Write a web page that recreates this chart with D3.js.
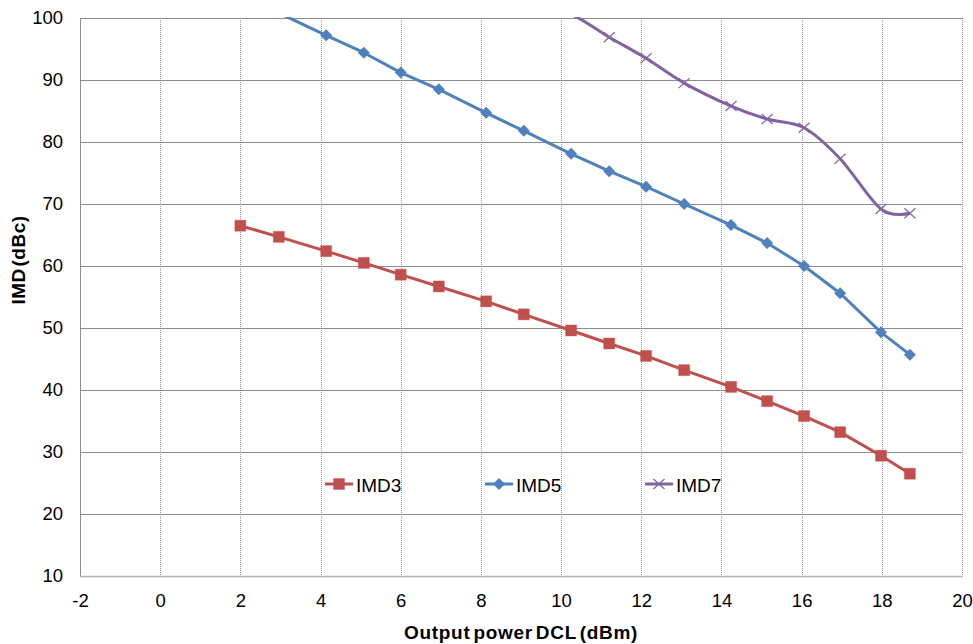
<!DOCTYPE html>
<html>
<head>
<meta charset="utf-8">
<script src="https://cdn.jsdelivr.net/npm/d3@7"></script>
<style>
  body { margin: 0; background: #fff; }
  text { font-family: "Liberation Sans", Arial, sans-serif; }
</style>
</head>
<body>
<svg id="stage" width="973" height="644"></svg>
<script>
var svg = d3.select("#stage");

// data
var xIMD3 = [2.0, 2.96, 4.14, 5.08, 6.0, 6.95, 8.13, 9.07, 10.25, 11.2, 12.12, 13.07, 14.24, 15.14, 16.06, 16.96, 17.98, 18.7];
var yIMD3 = [66.5, 64.7, 62.4, 60.5, 58.6, 56.7, 54.3, 52.2, 49.6, 47.5, 45.5, 43.2, 40.5, 38.2, 35.8, 33.2, 29.4, 26.5];

var xIMD5 = [2.0, 2.96, 4.14, 5.08, 6.0, 6.95, 8.13, 9.07, 10.25, 11.2, 12.12, 13.07, 14.24, 15.14, 16.06, 16.96, 17.98, 18.7];
var yIMD5 = [103.4, 100.8, 97.2, 94.4, 91.2, 88.5, 84.7, 81.8, 78.1, 75.3, 72.8, 70.0, 66.6, 63.7, 60.0, 55.6, 49.3, 45.7];

var xIMD7 = [9.07, 10.25, 11.2, 12.12, 13.07, 14.24, 15.14, 16.06, 16.96, 17.98, 18.7];
var yIMD7 = [103.2, 100.6, 96.9, 93.5, 89.5, 85.8, 83.7, 82.3, 77.3, 69.2, 68.5];

var xTicks = [-2, 0, 2, 4, 6, 8, 10, 12, 14, 16, 18, 20];
var yTicks = [10, 20, 30, 40, 50, 60, 70, 80, 90, 100];

var seriesNames = ["IMD3", "IMD5", "IMD7"];
var seriesColors = ["#C0504D", "#4F81BD", "#8064A2"];

////////////////////////////// LAYOUT

var plotLeft = 80, plotRight = 962, plotTop = 18, plotBottom = 576;

var x = d3.scaleLinear().domain([-2, 20]).range([plotLeft, plotRight]);
var y = d3.scaleLinear().domain([10, 100]).range([plotBottom, plotTop]);

var series = [
  { name: seriesNames[0], color: seriesColors[0], marker: "square",  curve: d3.curveLinear,
    pts: xIMD3.map(function(v, i){ return [v, yIMD3[i]]; }) },
  { name: seriesNames[1], color: seriesColors[1], marker: "diamond", curve: d3.curveLinear,
    pts: xIMD5.map(function(v, i){ return [v, yIMD5[i]]; }) },
  { name: seriesNames[2], color: seriesColors[2], marker: "cross",   curve: d3.curveCatmullRom.alpha(0),
    pts: xIMD7.map(function(v, i){ return [v, yIMD7[i]]; }) }
];

svg.append("defs").append("clipPath").attr("id", "plotclip")
  .append("rect").attr("x", plotLeft).attr("y", plotTop - 1)
  .attr("width", plotRight - plotLeft + 2).attr("height", plotBottom - plotTop + 2);

////////////////////////////// GRID

// vertical dotted lines
svg.append("g").selectAll("line")
  .data(xTicks.filter(function(d){ return d > -2; }))
  .enter().append("line")
    .attr("x1", function(d){ return Math.round(x(d)) + 0.5; })
    .attr("x2", function(d){ return Math.round(x(d)) + 0.5; })
    .attr("y1", plotTop).attr("y2", plotBottom)
    .attr("stroke", "#9a9a9a")
    .attr("stroke-width", 1)
    .attr("stroke-dasharray", "1,1");

// horizontal solid lines
svg.append("g").selectAll("line")
  .data(yTicks.filter(function(d){ return d > 10; }))
  .enter().append("line")
    .attr("x1", plotLeft).attr("x2", plotRight + 1)
    .attr("y1", function(d){ return Math.round(y(d)) + 0.5; })
    .attr("y2", function(d){ return Math.round(y(d)) + 0.5; })
    .attr("stroke", "#8c8c8c")
    .attr("stroke-width", 1);

// axes lines
svg.append("line")
  .attr("x1", plotLeft + 0.5).attr("x2", plotLeft + 0.5)
  .attr("y1", plotTop).attr("y2", plotBottom + 1)
  .attr("stroke", "#8c8c8c");
svg.append("line")
  .attr("x1", plotLeft).attr("x2", plotRight + 1)
  .attr("y1", plotBottom + 0.5).attr("y2", plotBottom + 0.5)
  .attr("stroke", "#b4b4b4").attr("stroke-width", 1.5);

////////////////////////////// AXES

var plainFormat = function(d){ return String(d); };

var yAxis = d3.axisLeft(y).tickValues(yTicks).tickSize(0).tickPadding(17).tickFormat(plainFormat);
var yg = svg.append("g").attr("transform", "translate(" + plotLeft + ",0)").call(yAxis);
yg.select(".domain").remove();
yg.selectAll("text").attr("font-size", 18.5).attr("fill", "#000")
  .attr("font-family", "Liberation Sans, Arial, sans-serif");

var xAxis = d3.axisBottom(x).tickValues(xTicks).tickSize(0).tickPadding(18).tickFormat(plainFormat);
var xg = svg.append("g").attr("transform", "translate(0," + plotBottom + ")").call(xAxis);
xg.select(".domain").remove();
xg.selectAll("text").attr("font-size", 18.5).attr("fill", "#000")
  .attr("font-family", "Liberation Sans, Arial, sans-serif");

svg.append("text")
  .attr("x", 521).attr("y", 639)
  .attr("text-anchor", "middle")
  .attr("font-size", 19).attr("font-weight", "bold")
  .attr("letter-spacing", 0.7).attr("word-spacing", -3)
  .text("Output power DCL (dBm)");

svg.append("text")
  .attr("transform", "translate(25,260) rotate(-90)")
  .attr("text-anchor", "middle")
  .attr("font-size", 19).attr("font-weight", "bold")
  .attr("letter-spacing", 0.5).attr("word-spacing", -4)
  .text("IMD (dBc)");

////////////////////////////// SERIES

var drawMarker = function(g, type, color, cx, cy){
  if (type === "square") {
    g.append("rect")
      .attr("x", cx - 5.5).attr("y", cy - 5.5).attr("width", 11).attr("height", 11)
      .attr("fill", color).attr("stroke", color).attr("stroke-opacity", 0.4);
  } else if (type === "diamond") {
    g.append("path")
      .attr("d", "M" + cx + "," + (cy - 6) + "L" + (cx + 6) + "," + cy +
                 "L" + cx + "," + (cy + 6) + "L" + (cx - 6) + "," + cy + "Z")
      .attr("fill", color);
  } else {
    g.append("path")
      .attr("d", "M" + (cx - 5.5) + "," + (cy - 5) + "L" + (cx + 5.5) + "," + (cy + 5) +
                 "M" + (cx - 5.5) + "," + (cy + 5) + "L" + (cx + 5.5) + "," + (cy - 5))
      .attr("stroke", color).attr("stroke-width", 1.2).attr("fill", "none");
  }
};

var plot = svg.append("g").attr("clip-path", "url(#plotclip)");

series.forEach(function(s){
  var line = d3.line()
    .x(function(d){ return x(d[0]); })
    .y(function(d){ return y(d[1]); })
    .curve(s.curve);

  plot.append("path")
    .datum(s.pts)
    .attr("d", line)
    .attr("fill", "none")
    .attr("stroke", s.color)
    .attr("stroke-width", 3)
    .attr("stroke-linejoin", "round");

  var mg = plot.append("g");
  s.pts.forEach(function(p){
    if (p[1] <= 100) drawMarker(mg, s.marker, s.color, x(p[0]), y(p[1]));
  });
});

////////////////////////////// LEGEND

var legendX = [325, 485, 645];
var legendY = 484;

series.forEach(function(s, i){
  var g = svg.append("g");
  g.append("line")
    .attr("x1", legendX[i]).attr("x2", legendX[i] + 28)
    .attr("y1", legendY).attr("y2", legendY)
    .attr("stroke", s.color).attr("stroke-width", 3);
  drawMarker(g, s.marker, s.color, legendX[i] + 14, legendY);
  g.append("text")
    .attr("x", legendX[i] + 31).attr("y", legendY + 8)
    .attr("font-size", 19).attr("fill", "#000")
    .text(s.name);
});
</script>
</body>
</html>
